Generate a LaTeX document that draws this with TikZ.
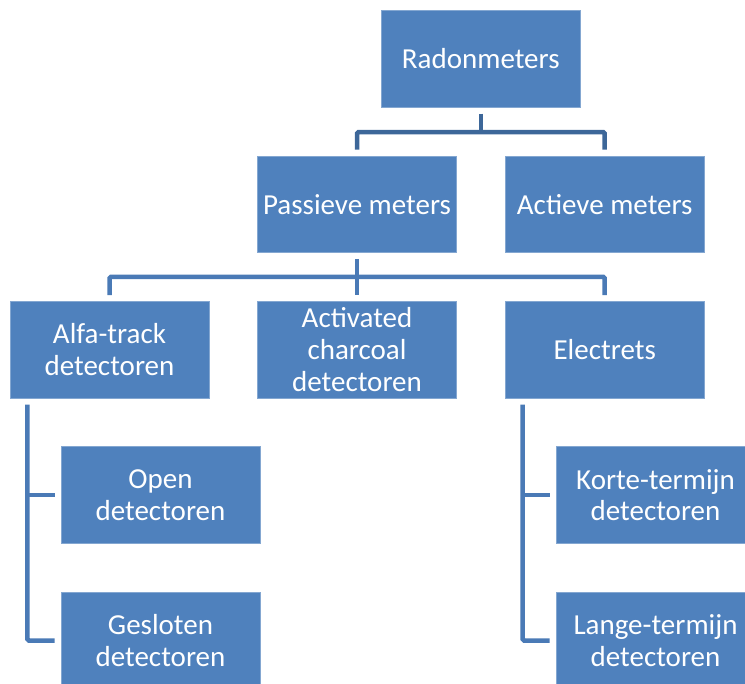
\documentclass[tikz,border=0pt]{standalone}
\usepackage{fontspec}
\setmainfont{Carlito}
\definecolor{boxblue}{HTML}{4F81BD}
\definecolor{connA}{HTML}{3D6799}
\definecolor{connB}{HTML}{4A7AB6}
\begin{document}
\begin{tikzpicture}[x=1pt,y=-1pt,
  unit/.style={rectangle, fill=boxblue, draw=boxblue!70!white, line width=0.6pt,
    minimum width=199pt, minimum height=96.5pt, inner sep=0pt,
    text=white, align=center, font=\fontsize{29}{31.7}\selectfont},
  connline/.style={line width=4.5pt, rounded corners=1.5pt},
  topconn/.style={connline, draw=connA},
  lowconn/.style={connline, draw=connB}]
\useasboundingbox (0,0) rectangle (745,684);
\clip (0,0) rectangle (745,684);
% nodes
\node[unit] (rad)   at (480.8,59)    {Radonmeters};
\node[unit] (pas)   at (357,204.3)   {Passieve meters};
\node[unit] (act)   at (604.7,204.3) {Actieve meters};
\node[unit] (alfa)  at (109.5,349.7) {Alfa-track\\detectoren};
\node[unit] (char)  at (357,349.7)   {Activated\\charcoal\\detectoren};
\node[unit] (elec)  at (604.7,349.7) {Electrets};
\node[unit] (open)  at (160.5,495)   {Open\\detectoren};
\node[unit] (gesl)  at (160.5,640.5) {Gesloten\\detectoren};
\node[unit] (korte) at (655.5,495)   {Korte-termijn\\detectoren};
\node[unit] (lange) at (655.5,640.5) {Lange-termijn\\detectoren};
% level 1 connectors
\coordinate (radbar) at ([yshift=-24.5pt]rad.south);
\draw[topconn] ([yshift=-6pt]rad.south) -- (radbar);
\draw[topconn] ([yshift=6pt]pas.north) |- (radbar) -| ([yshift=6pt]act.north);
% level 2 connectors
\coordinate (pasbar) at ([yshift=-24pt]pas.south);
\draw[lowconn] ([yshift=-6pt]pas.south) -- ([yshift=6pt]char.north);
\draw[lowconn] ([yshift=6pt]alfa.north) |- (pasbar) -| ([yshift=6pt]elec.north);
% level 3 connectors (left)
\coordinate (atrunk) at ([xshift=17.7pt,yshift=-6.5pt]alfa.south west);
\draw[lowconn] (atrunk) |- ([xshift=-6pt]gesl.west);
\draw[lowconn] ([xshift=-6pt]open.west) -- (atrunk |- open.west);
% level 3 connectors (right)
\coordinate (etrunk) at ([xshift=17.7pt,yshift=-6.5pt]elec.south west);
\draw[lowconn] (etrunk) |- ([xshift=-6pt]lange.west);
\draw[lowconn] ([xshift=-6pt]korte.west) -- (etrunk |- korte.west);
\end{tikzpicture}
\end{document}
